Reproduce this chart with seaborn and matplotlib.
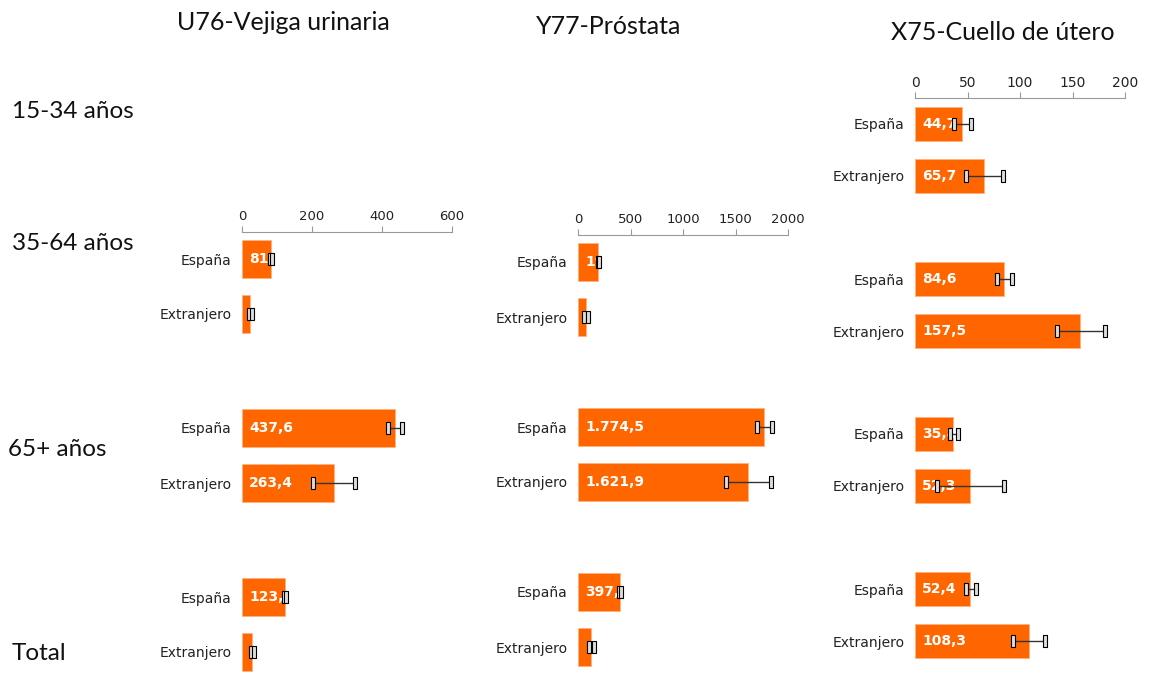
import numpy as np
import pandas as pd
import matplotlib
matplotlib.use("Agg")
import matplotlib.pyplot as plt
from matplotlib.path import Path
import seaborn as sns

sns.set_style("white")
plt.rcParams["font.family"] = ["DejaVu Sans"]

# datos
grupos = ["15-34 años", "35-64 años", "65+ años", "Total"]
origenes = ["España", "Extranjero"]
nan = np.nan

u76_espana = [nan, 81.7, 437.6, 123.8]
u76_espana_ci = [(nan, nan), (79.0, 84.5), (417.0, 457.0), (121.0, 126.5)]
u76_extranjero = [nan, 23.6, 263.4, 29.1]
u76_extranjero_ci = [(nan, nan), (19.0, 28.5), (203.0, 323.0), (25.0, 33.5)]

y77_espana = [nan, 193.4, 1774.5, 397.4]
y77_espana_ci = [(nan, nan), (187.0, 200.0), (1705.0, 1848.0), (390.0, 405.0)]
y77_extranjero = [nan, 76.2, 1621.9, 126.5]
y77_extranjero_ci = [(nan, nan), (60.0, 92.0), (1410.0, 1838.0), (105.0, 148.0)]

x75_espana = [44.7, 84.6, 35.8, 52.4]
x75_espana_ci = [(37.0, 53.0), (78.0, 92.0), (33.5, 41.0), (48.6, 58.0)]
x75_extranjero = [65.7, 157.5, 52.3, 108.3]
x75_extranjero_ci = [(48.6, 83.8), (135.0, 181.0), (21.0, 85.0), (93.0, 124.0)]

titulos = ["U76-Vejiga urinaria", "Y77-Próstata", "X75-Cuello de útero"]
xmax = [600, 2000, 200]
xticks = [[0, 200, 400, 600], [0, 500, 1000, 1500, 2000], [0, 50, 100, 150, 200]]

series = [
    (u76_espana, u76_espana_ci, u76_extranjero, u76_extranjero_ci),
    (y77_espana, y77_espana_ci, y77_extranjero, y77_extranjero_ci),
    (x75_espana, x75_espana_ci, x75_extranjero, x75_extranjero_ci),
]

# layout (pixels)
W, H = 1149, 673
col_left = [242, 578, 915]
col_w = 210
panel_top = [
    [None, 231.5, 400.5, 569.5],
    [None, 234.5, 399.5, 564.5],
    [98, 253, 408, 563],
]
panel_h = [110, 110, 104]
bar_w = [0.7, 0.7, 0.66]

naranja = "#FF6600"
cap = Path([(-0.28, -1), (0.28, -1), (0.28, 1), (-0.28, 1), (-0.28, -1)],
           [Path.MOVETO, Path.LINETO, Path.LINETO, Path.LINETO, Path.CLOSEPOLY])


def fmt(v):
    s = f"{v:,.1f}"
    return s.replace(",", "X").replace(".", ",").replace("X", ".")


fig = plt.figure(figsize=(W / 100, H / 100), dpi=100)

for c in range(3):
    esp, esp_ci, ext, ext_ci = series[c]
    first = True
    for r in range(4):
        top = panel_top[c][r]
        if top is None or np.isnan(esp[r]):
            continue
        ph = panel_h[c]
        ax = fig.add_axes([col_left[c] / W, 1 - (top + ph) / H, col_w / W, ph / H])
        df = pd.DataFrame({"origen": origenes, "tasa": [esp[r], ext[r]]})
        sns.barplot(data=df, x="tasa", y="origen", color=naranja, width=bar_w[c],
                    saturation=1, ax=ax, edgecolor="#ffb380", linewidth=0.6)
        ax.set_xlim(0, xmax[c])
        ax.set_ylim(1.5, -0.5)
        ax.set_xlabel("")
        ax.set_ylabel("")
        for s in ax.spines.values():
            s.set_visible(False)
        ax.tick_params(axis="y", length=0, labelsize=10, pad=7.5, colors="#222222")
        if first:
            ax.xaxis.set_ticks_position("top")
            ax.xaxis.set_label_position("top")
            ax.set_xticks(xticks[c])
            ax.tick_params(axis="x", length=4, width=0.8,
                           labelsize=9.5 if c < 2 else 10, pad=2, colors="#222222")
            ax.tick_params(axis="x", color="#999999")
            ax.spines["top"].set_visible(True)
            ax.spines["top"].set_color("#999999")
            ax.spines["top"].set_linewidth(0.8)
            first = False
        else:
            ax.set_xticks([])
        for i, (v, ci) in enumerate([(esp[r], esp_ci[r]), (ext[r], ext_ci[r])]):
            ax.annotate(fmt(v), xy=(0, i), xytext=(5, 0), textcoords="offset points",
                        ha="left", va="center", color="white", fontweight="bold",
                        fontsize=10, zorder=4)
            ax.plot([ci[0], ci[1]], [i, i], color="#333333", lw=1.0, zorder=5,
                    marker=cap, ms=8, mfc="#dddddd", mec="black", mew=0.8)

# titulos de columna
title_pos = [(283, 22), (609, 27), (1003, 32)]
for t, (x, y) in zip(titulos, title_pos):
    fig.text(x / W, 1 - y / H, t, ha="center", va="center", fontsize=18,
             family=["Lato", "DejaVu Sans"], color="#111111")

# etiquetas de fila
row_pos = [(12, 112), (12, 243), (8, 450), (12, 653)]
for g, (x, y) in zip(grupos, row_pos):
    fig.text(x / W, 1 - y / H, g, ha="left", va="center", fontsize=17.5,
             family=["Lato", "DejaVu Sans"], color="#111111")

fig.savefig("out.png", dpi=100)
